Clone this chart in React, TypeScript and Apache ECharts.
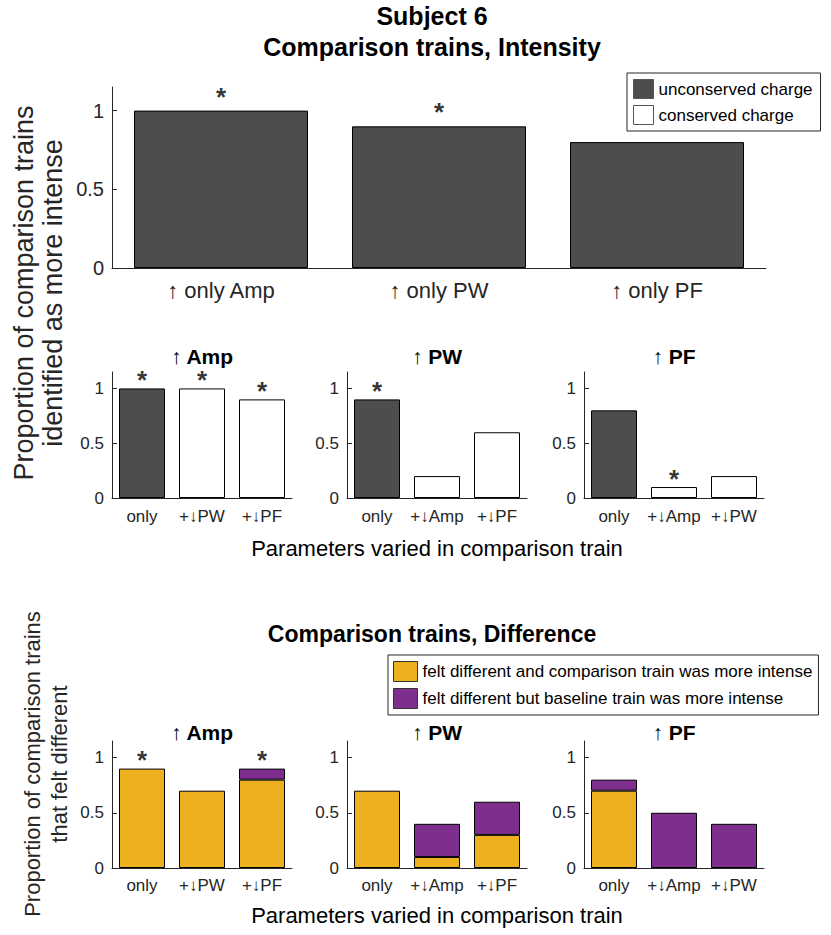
import React, { useEffect, useRef } from "react";
import * as echarts from "echarts";

const FONT = '"Liberation Sans", "DejaVu Sans", Arial, Helvetica, sans-serif';
const INK = "#262626";
const GRAY = "#4d4d4d";
const WHITE = "#ffffff";
const YELLOW = "#EDB120";
const PURPLE = "#7E2F8E";

// ---- data ----
const topCats = ["↑ only Amp", "↑ only PW", "↑ only PF"];
const topValues = [1, 0.9, 0.8];
const topStars = [true, true, false];

const panelTitles = ["↑ Amp", "↑ PW", "↑ PF"];
const ampCats = ["only", "+↓PW", "+↓PF"];
const pwCats = ["only", "+↓Amp", "+↓PF"];
const pfCats = ["only", "+↓Amp", "+↓PW"];
const conservedFlags = [false, true, true];

const intensityAmp = [1, 1, 0.9];
const intensityPw = [0.9, 0.2, 0.6];
const intensityPf = [0.8, 0.1, 0.2];
const intensityStarsAmp = [true, true, true];
const intensityStarsPw = [true, false, false];
const intensityStarsPf = [false, true, false];

const diffMoreAmp = [0.9, 0.7, 0.8];
const diffBaseAmp = [0, 0, 0.1];
const diffMorePw = [0.7, 0.1, 0.3];
const diffBasePw = [0, 0.3, 0.3];
const diffMorePf = [0.7, 0, 0];
const diffBasePf = [0.1, 0.5, 0.4];
const diffStarsAmp = [true, false, true];
const diffStarsPw = [false, false, false];
const diffStarsPf = [false, false, false];

const yTicks = [0, 0.5, 1];

const N_UNCONS = "unconserved charge";
const N_CONS = "conserved charge";
const N_MORE = "felt different and comparison train was more intense";
const N_BASE = "felt different but baseline train was more intense";

export default function App() {
  const ref = useRef<HTMLDivElement>(null);

  useEffect(() => {
    if (!ref.current) return;
    const chart = echarts.init(ref.current, undefined, { renderer: "svg" });

    const grids = [
      { left: 112, top: 87, width: 654, height: 181 },
      { left: 112, top: 372, width: 180, height: 126 },
      { left: 347, top: 372, width: 180, height: 126 },
      { left: 584, top: 372, width: 180, height: 126 },
      { left: 112, top: 741, width: 180, height: 127 },
      { left: 347, top: 741, width: 180, height: 127 },
      { left: 584, top: 741, width: 180, height: 127 },
    ];
    const catsByGrid = [topCats, ampCats, pwCats, pfCats, ampCats, pwCats, pfCats];

    const xAxis = catsByGrid.map((cats, g) => ({
      type: "category",
      gridIndex: g,
      data: cats,
      axisLine: { show: true, lineStyle: { color: INK, width: 1 } },
      axisTick: { show: false },
      axisLabel: {
        interval: 0,
        color: INK,
        fontFamily: FONT,
        fontSize: g === 0 ? 22 : 17,
        margin: g === 0 ? 11 : g < 4 ? 10 : 9,
      },
    }));

    const yAxis = catsByGrid.map((_, g) => ({
      type: "value",
      gridIndex: g,
      min: 0,
      max: 1.15,
      interval: 0.5,
      splitLine: { show: false },
      axisLine: { show: true, lineStyle: { color: INK, width: 1 } },
      axisTick: { show: true, inside: true, length: 5, customValues: yTicks, lineStyle: { color: INK } },
      axisLabel: {
        customValues: yTicks,
        color: INK,
        fontFamily: FONT,
        fontSize: g === 0 ? 20 : 17,
        margin: 8,
        formatter: (v: number) => (yTicks.indexOf(v) >= 0 ? String(v) : ""),
      },
    }));

    const series: any[] = [];
    const barStyle = (c: string) => ({ color: c, borderColor: "#000", borderWidth: 1 });
    const starSeries = (g: number, vals: number[], stars: boolean[]) => ({
      type: "scatter",
      xAxisIndex: g,
      yAxisIndex: g,
      symbolSize: 1,
      itemStyle: { color: "rgba(0,0,0,0)" },
      silent: true,
      z: 5,
      data: vals.map((v, i) => (stars[i] ? [i, v + 0.12] : null)).filter((d) => d !== null),
      label: {
        show: true,
        position: "inside",
        formatter: "*",
        fontFamily: FONT,
        fontSize: 26,
        fontWeight: "bold",
        color: "#000",
        offset: [0, 5],
      },
    });

    // top panel
    series.push({
      type: "bar",
      name: N_UNCONS,
      xAxisIndex: 0,
      yAxisIndex: 0,
      barWidth: 174,
      itemStyle: barStyle(GRAY),
      data: topValues,
    });
    series.push(starSeries(0, topValues, topStars));

    // intensity small panels
    const intVals = [intensityAmp, intensityPw, intensityPf];
    const intStars = [intensityStarsAmp, intensityStarsPw, intensityStarsPf];
    intVals.forEach((vals, k) => {
      const g = 1 + k;
      series.push({
        type: "bar",
        name: N_UNCONS,
        xAxisIndex: g,
        yAxisIndex: g,
        barWidth: 46,
        barGap: "-100%",
        itemStyle: barStyle(GRAY),
        data: vals.map((v, i) => (conservedFlags[i] ? "-" : v)),
      });
      series.push({
        type: "bar",
        name: N_CONS,
        xAxisIndex: g,
        yAxisIndex: g,
        barWidth: 46,
        barGap: "-100%",
        itemStyle: barStyle(WHITE),
        data: vals.map((v, i) => (conservedFlags[i] ? v : "-")),
      });
      series.push(starSeries(g, vals, intStars[k]));
    });

    // difference panels
    const more = [diffMoreAmp, diffMorePw, diffMorePf];
    const base = [diffBaseAmp, diffBasePw, diffBasePf];
    const dStars = [diffStarsAmp, diffStarsPw, diffStarsPf];
    more.forEach((m, k) => {
      const g = 4 + k;
      series.push({
        type: "bar",
        name: N_MORE,
        stack: "d" + k,
        xAxisIndex: g,
        yAxisIndex: g,
        barWidth: 46,
        itemStyle: barStyle(YELLOW),
        data: m.map((v) => (v === 0 ? "-" : v)),
      });
      series.push({
        type: "bar",
        name: N_BASE,
        stack: "d" + k,
        xAxisIndex: g,
        yAxisIndex: g,
        barWidth: 46,
        itemStyle: barStyle(PURPLE),
        data: base[k].map((v) => (v === 0 ? "-" : v)),
      });
      const totals = m.map((v, i) => v + base[k][i]);
      series.push(starSeries(g, totals, dStars[k]));
    });

    const txt = (x: number, y: number, text: string, size: number, bold = false, extra: any = {}) => ({
      type: "text",
      x,
      y,
      silent: true,
      style: {
        text,
        fontFamily: FONT,
        fontSize: size,
        fontWeight: bold ? "bold" : "normal",
        fill: "#000",
        align: "center",
        verticalAlign: "middle",
        ...extra.style,
      },
      ...(extra.rotation !== undefined ? { rotation: extra.rotation } : {}),
    });

    const panelCenters = [202, 437, 674];
    const graphics: any[] = [
      txt(432, 16, "Subject 6", 25, true),
      txt(432, 47, "Comparison trains, Intensity", 25, true),
      txt(432, 634, "Comparison trains, Difference", 23, true),
      txt(437, 548, "Parameters varied in comparison train", 22),
      txt(437, 915, "Parameters varied in comparison train", 22),
      txt(38, 293, "Proportion of comparison trains\nidentified as more intense", 27, false, {
        rotation: Math.PI / 2,
        style: { lineHeight: 29, fill: INK },
      }),
      txt(46, 764, "Proportion of comparison trains\nthat felt different", 22, false, {
        rotation: Math.PI / 2,
        style: { lineHeight: 27, fill: INK },
      }),
    ];
    panelTitles.forEach((t, k) => {
      graphics.push(txt(panelCenters[k], 356, t, 21, true));
      graphics.push(txt(panelCenters[k], 732, t, 21, true));
    });

    const legendBase = {
      orient: "vertical",
      selectedMode: false,
      icon: "rect",
      borderColor: INK,
      borderWidth: 1,
      backgroundColor: "#fff",
      textStyle: { fontFamily: FONT, fontSize: 17, color: "#000" },
    };

    chart.setOption({
      animation: false,
      backgroundColor: "#ffffff",
      grid: grids,
      xAxis,
      yAxis,
      series,
      graphic: graphics,
      legend: [
        {
          ...legendBase,
          left: 627,
          top: 73,
          padding: [6, 8, 6, 6],
          itemWidth: 20,
          itemHeight: 19,
          itemGap: 6,
          data: [
            { name: N_UNCONS, itemStyle: { color: GRAY, borderColor: "#555", borderWidth: 1 } },
            { name: N_CONS, itemStyle: { color: WHITE, borderColor: "#555", borderWidth: 1 } },
          ],
        },
        {
          ...legendBase,
          left: 388,
          top: 655,
          padding: [6, 6, 6, 5],
          itemWidth: 24,
          itemHeight: 20,
          itemGap: 6,
          data: [
            { name: N_MORE, itemStyle: { color: YELLOW, borderColor: "#333", borderWidth: 1 } },
            { name: N_BASE, itemStyle: { color: PURPLE, borderColor: "#333", borderWidth: 1 } },
          ],
        },
      ],
    });

    return () => chart.dispose();
  }, []);

  return (
    <div
      ref={ref}
      style={{ position: "absolute", left: 0, top: 0, width: 831, height: 935, background: "#fff" }}
    />
  );
}
